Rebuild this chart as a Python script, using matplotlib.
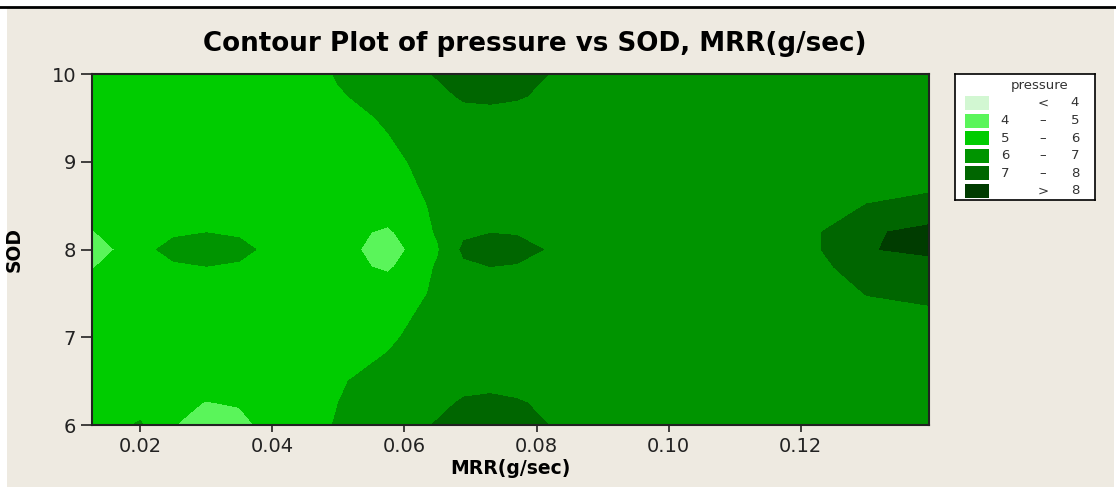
import numpy as np
import matplotlib
matplotlib.use('Agg')
import matplotlib.pyplot as plt
from matplotlib.patches import Rectangle
from matplotlib.lines import Line2D

# Grid (MRR columns, SOD rows)
mrr = [0.0127, 0.02, 0.025, 0.03, 0.035, 0.04, 0.05, 0.0575, 0.065,
       0.069, 0.073, 0.077, 0.085, 0.10, 0.12, 0.13, 0.1394]
sod = [6.0, 6.25, 6.5, 7.0, 7.5, 7.8, 8.0, 8.2, 8.5, 9.0, 9.5, 9.75, 10.0]
pressure = [
    [5.5, 6.1, 5.05, 4.4, 4.6, 5.5, 6.05, 6.3, 7.1, 7.4, 7.5, 7.3, 6.8, 6.5, 6.5, 6.5, 6.5],    # 6.0
    [5.5, 5.6, 5.3, 4.95, 5.1, 5.5, 6.0, 6.2, 6.7, 7.15, 7.3, 7.1, 6.6, 6.5, 6.5, 6.5, 6.5],   # 6.25
    [5.5, 5.5, 5.5, 5.5, 5.5, 5.5, 5.95, 6.2, 6.5, 6.6, 6.6, 6.6, 6.5, 6.5, 6.5, 6.5, 6.5],    # 6.5
    [5.5, 5.5, 5.5, 5.5, 5.5, 5.5, 5.6, 5.9, 6.3, 6.5, 6.5, 6.5, 6.5, 6.5, 6.5, 6.6, 6.6],     # 7.0
    [5.5, 5.5, 5.5, 5.5, 5.5, 5.5, 5.5, 5.6, 6.1, 6.3, 6.3, 6.3, 6.5, 6.5, 6.6, 7.02, 7.15],   # 7.5
    [4.95, 5.6, 5.9, 5.98, 5.9, 5.6, 5.3, 4.85, 6.1, 6.8, 6.98, 6.9, 6.5, 6.5, 6.6, 7.4, 7.3], # 7.8
    [4.3, 5.8, 6.2, 6.4, 6.2, 5.8, 5.4, 4.5, 5.9, 7.2, 7.6, 7.4, 6.6, 6.5, 6.6, 7.9, 8.4],     # 8.0
    [4.95, 5.6, 5.9, 5.98, 5.9, 5.6, 5.3, 4.85, 6.1, 6.8, 6.95, 6.9, 6.5, 6.5, 6.6, 7.85, 8.3], # 8.2
    [5.5, 5.5, 5.5, 5.5, 5.5, 5.5, 5.5, 5.6, 6.1, 6.3, 6.3, 6.3, 6.5, 6.5, 6.6, 7.02, 7.2],    # 8.5
    [5.5, 5.5, 5.5, 5.5, 5.5, 5.5, 5.5, 5.8, 6.3, 6.5, 6.5, 6.5, 6.5, 6.5, 6.5, 6.5, 6.5],     # 9.0
    [5.5, 5.5, 5.5, 5.5, 5.5, 5.5, 5.7, 6.1, 6.5, 6.6, 6.5, 6.6, 6.5, 6.5, 6.5, 6.5, 6.5],     # 9.5
    [5.5, 5.5, 5.5, 5.5, 5.5, 5.5, 5.95, 6.2, 6.7, 7.15, 7.3, 7.1, 6.6, 6.5, 6.5, 6.5, 6.5],   # 9.75
    [5.5, 5.5, 5.5, 5.5, 5.5, 5.5, 6.05, 6.3, 7.1, 7.4, 7.5, 7.3, 6.8, 6.5, 6.5, 6.5, 6.5],    # 10.0
]

levels = [0, 4, 5, 6, 7, 8, 20]
level_labels = [('', '<', '4'), ('4', '\u2013', '5'), ('5', '\u2013', '6'),
                ('6', '\u2013', '7'), ('7', '\u2013', '8'), ('', '>', '8')]
colors = ['#d2f7d2', '#5af55a', '#00cc00', '#009400', '#006600', '#003c00']

xticks = [0.02, 0.04, 0.06, 0.08, 0.10, 0.12]
yticks = [6, 7, 8, 9, 10]

W, H = 1116, 490
fig = plt.figure(figsize=(W / 100, H / 100), dpi=100, facecolor='white')

# beige panel and top rule
fig.patches.append(Rectangle((7 / W, 3 / H), 1107 / W, 479 / H, transform=fig.transFigure,
                             facecolor='#eeeae1', edgecolor='none', zorder=-5))
fig.lines.append(Line2D([0, 1], [1 - 7 / H, 1 - 7 / H], transform=fig.transFigure,
                        color='black', lw=2, zorder=-4))

ax = fig.add_axes([92 / W, 1 - 425 / H, 837 / W, 351 / H])
X, Y = np.meshgrid(mrr, sod)
ax.contourf(X, Y, np.array(pressure), levels=levels, colors=colors)
ax.set_xlim(mrr[0], mrr[-1])
ax.set_ylim(6, 10)
ax.set_xticks(xticks)
ax.set_xticklabels(['%.2f' % t for t in xticks])
ax.set_yticks(yticks)
ax.tick_params(direction='out', width=1.2, labelsize=14, colors='#222222')
ax.tick_params(axis='x', length=5)
ax.tick_params(axis='y', length=8)
for s in ax.spines.values():
    s.set_linewidth(1.5)
    s.set_color('#222222')

ax.set_xlabel('MRR(g/sec)', fontsize=13.5, fontweight='bold', labelpad=2)
ax.set_ylabel('SOD', fontsize=13.5, fontweight='bold', labelpad=20)
fig.text(535 / W, 1 - 44 / H, 'Contour Plot of pressure vs SOD, MRR(g/sec)',
         ha='center', va='center', fontsize=18.8, fontweight='bold')

# legend box
lg = fig.add_axes([955 / W, 1 - 200 / H, 140 / W, 126 / H])
lg.set_xlim(0, 140)
lg.set_ylim(126, 0)
lg.set_xticks([])
lg.set_yticks([])
lg.set_facecolor('white')
for s in lg.spines.values():
    s.set_linewidth(1.2)
lg.text(85, 12, 'pressure', ha='center', va='center', fontsize=9.5, color='#333333')
for i, (c, (lo, sym, hi)) in enumerate(zip(colors, level_labels)):
    yc = 29 + i * 17.6
    lg.add_patch(Rectangle((10, yc - 7), 24, 14, facecolor=c, edgecolor='none'))
    lg.text(50, yc, lo, ha='center', va='center', fontsize=9.5, color='#333333')
    lg.text(88, yc, sym, ha='center', va='center', fontsize=9.5, color='#333333')
    lg.text(120, yc, hi, ha='center', va='center', fontsize=9.5, color='#333333')

fig.savefig('out.png', dpi=100, facecolor=fig.get_facecolor())
